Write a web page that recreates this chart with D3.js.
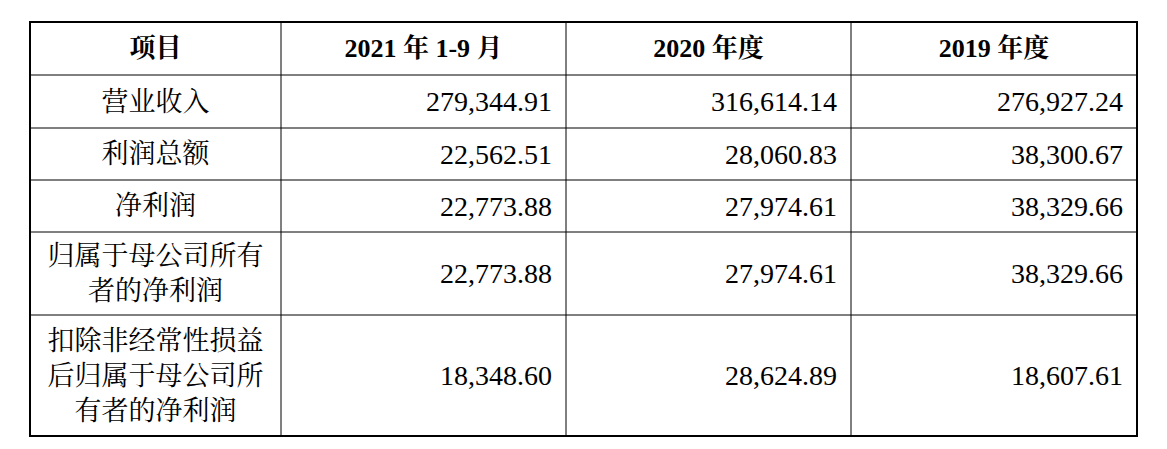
<!DOCTYPE html>
<html><head><meta charset="utf-8">
<script src="https://cdn.jsdelivr.net/npm/d3@7"></script>
<style>body{margin:0;background:#fff}</style>
</head><body>
<script>
// table content
const headers = ["项目", "2021 年 1-9 月", "2020 年度", "2019 年度"];
const items = [["营业收入"], ["利润总额"], ["净利润"], ["归属于母公司所有", "者的净利润"], ["扣除非经常性损益", "后归属于母公司所", "有者的净利润"]];
const v2021 = ["279,344.91", "22,562.51", "22,773.88", "22,773.88", "18,348.60"];
const v2020 = ["316,614.14", "28,060.83", "27,974.61", "27,974.61", "28,624.89"];
const v2019 = ["276,927.24", "38,300.67", "38,329.66", "38,329.66", "18,607.61"];

const W = 1167, H = 449;
const colEdges = [30, 281, 566, 851, 1137];
const rowEdges = [22, 75, 128, 180, 232, 315, 436];
const font = "'Liberation Serif','Noto Serif CJK SC','Noto Sans CJK SC',serif";

const svg = d3.select("body").append("svg").attr("width", W).attr("height", H);
const g = svg.append("g");

// grid lines
colEdges.slice(1, -1).forEach(x => g.append("line").attr("x1", x).attr("x2", x)
  .attr("y1", rowEdges[0]).attr("y2", rowEdges[rowEdges.length - 1]).attr("stroke", "#000").attr("stroke-width", 1));
rowEdges.slice(1, -1).forEach(y => g.append("line").attr("x1", colEdges[0]).attr("x2", colEdges[4])
  .attr("y1", y).attr("y2", y).attr("stroke", "#000").attr("stroke-width", 1));
g.append("rect").attr("x", colEdges[0]).attr("y", rowEdges[0])
  .attr("width", colEdges[4] - colEdges[0]).attr("height", rowEdges[6] - rowEdges[0])
  .attr("fill", "none").attr("stroke", "#000").attr("stroke-width", 2);

// header
headers.forEach((h, i) => {
  g.append("text").attr("x", (colEdges[i] + colEdges[i + 1]) / 2).attr("y", (rowEdges[0] + rowEdges[1]) / 2)
    .attr("text-anchor", "middle").attr("dominant-baseline", "central")
    .attr("font-family", font).attr("font-size", 26).attr("font-weight", "bold")
    .style("white-space", "pre").text(h);
});

const lineH = 35;
items.forEach((lines, r) => {
  const cy = (rowEdges[r + 1] + rowEdges[r + 2]) / 2;
  lines.forEach((t, k) => {
    g.append("text").attr("x", (colEdges[0] + colEdges[1]) / 2)
      .attr("y", cy + (k - (lines.length - 1) / 2) * lineH)
      .attr("text-anchor", "middle").attr("dominant-baseline", "central")
      .attr("font-family", font).attr("font-size", 27).text(t);
  });
  [v2021, v2020, v2019].forEach((col, c) => {
    g.append("text").attr("x", colEdges[c + 2] - 14).attr("y", cy)
      .attr("text-anchor", "end").attr("dominant-baseline", "central")
      .attr("font-family", font).attr("font-size", 28).text(col[r]);
  });
});
</script>
</body></html>
